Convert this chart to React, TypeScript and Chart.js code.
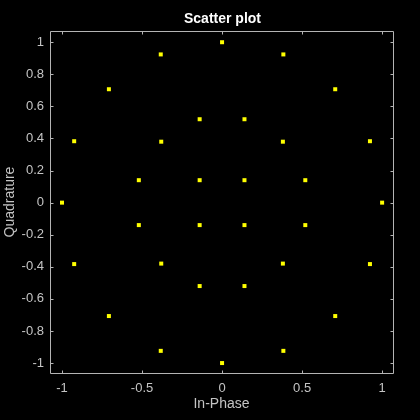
import React, { useEffect, useRef } from "react";
import { Chart, registerables } from "chart.js";

Chart.register(...registerables);

const titleText = "Scatter plot";
const xLabel = "In-Phase";
const yLabel = "Quadrature";

const inPhase = [
  1, 0.924, 0.707, 0.383, 0, -0.383, -0.707, -0.924, -1, -0.924, -0.707, -0.383, 0, 0.383, 0.707, 0.924,
  0.52, 0.38, 0.14, -0.14, -0.38, -0.52, -0.52, -0.38, -0.14, 0.14, 0.38, 0.52,
  0.14, -0.14, -0.14, 0.14,
];
const quadrature = [
  0, 0.383, 0.707, 0.924, 1, 0.924, 0.707, 0.383, 0, -0.383, -0.707, -0.924, -1, -0.924, -0.707, -0.383,
  0.14, 0.38, 0.52, 0.52, 0.38, 0.14, -0.14, -0.38, -0.52, -0.52, -0.38, -0.14,
  0.14, 0.14, -0.14, -0.14,
];
const xTicks = [-1, -0.5, 0, 0.5, 1];
const yTicks = [-1, -0.8, -0.6, -0.4, -0.2, 0, 0.2, 0.4, 0.6, 0.8, 1];

const AXIS_COLOR = "#b4b4b4";
const TEXT_COLOR = "#c4c4c4";
const FONT = "'Liberation Sans', Arial, sans-serif";

const framePlugin = {
  id: "frame",
  beforeDraw(chart: any) {
    const { ctx } = chart;
    ctx.save();
    ctx.fillStyle = "#000000";
    ctx.fillRect(0, 0, chart.width, chart.height);
    ctx.restore();
  },
  afterDraw(chart: any) {
    const { ctx, chartArea: a, scales } = chart;
    ctx.save();
    ctx.strokeStyle = AXIS_COLOR;
    ctx.lineWidth = 1;
    const L = Math.round(a.left) + 0.5;
    const R = Math.round(a.right) + 0.5;
    const T = Math.round(a.top) + 0.5;
    const B = Math.round(a.bottom) + 0.5;
    ctx.beginPath();
    ctx.rect(L, T, R - L, B - T);
    ctx.stroke();
    const tl = 3;
    ctx.beginPath();
    xTicks.forEach((v) => {
      const px = Math.round(scales.x.getPixelForValue(v)) + 0.5;
      ctx.moveTo(px, B);
      ctx.lineTo(px, B - tl);
      ctx.moveTo(px, T);
      ctx.lineTo(px, T + tl);
    });
    yTicks.forEach((v) => {
      const py = Math.round(scales.y.getPixelForValue(v)) + 0.5;
      ctx.moveTo(L, py);
      ctx.lineTo(L + tl, py);
      ctx.moveTo(R, py);
      ctx.lineTo(R - tl, py);
    });
    ctx.stroke();

    const cx = (a.left + a.right) / 2;
    const cy = (a.top + a.bottom) / 2;
    ctx.fillStyle = "#ffffff";
    ctx.font = `bold 14px ${FONT}`;
    ctx.textAlign = "center";
    ctx.textBaseline = "middle";
    ctx.fillText(titleText, cx + 1, 19);

    ctx.fillStyle = TEXT_COLOR;
    ctx.font = `14px ${FONT}`;
    ctx.fillText(xLabel, cx, 404);
    ctx.save();
    ctx.translate(10, cy);
    ctx.rotate(-Math.PI / 2);
    ctx.fillText(yLabel, 0, 0);
    ctx.restore();
    ctx.restore();
  },
};

export default function App() {
  const ref = useRef<HTMLCanvasElement>(null);
  useEffect(() => {
    document.body.style.margin = "0";
    const canvas = ref.current!;
    const data = inPhase.map((x, i) => ({ x, y: quadrature[i] }));
    const chart = new Chart(canvas, {
      type: "scatter",
      data: {
        datasets: [
          {
            data,
            pointStyle: "rect",
            pointRadius: 2.83,
            pointBorderWidth: 0,
            backgroundColor: "#ffff00",
            borderColor: "#ffff00",
          },
        ],
      },
      options: {
        animation: false,
        responsive: false,
        devicePixelRatio: 1,
        layout: { padding: { top: 31, right: 27, left: 0, bottom: 0 } },
        plugins: {
          legend: { display: false },
          title: { display: false },
          tooltip: { enabled: false },
        },
        scales: {
          x: {
            type: "linear",
            min: -1.075,
            max: 1.068,
            afterBuildTicks: (s: any) => {
              s.ticks = xTicks.map((v) => ({ value: v }));
            },
            afterFit: (s: any) => {
              s.height = 47;
            },
            grid: { display: false, drawTicks: false },
            border: { display: false },
            ticks: {
              color: TEXT_COLOR,
              font: { family: FONT, size: 13 },
              padding: 8,
              maxRotation: 0,
              autoSkip: false,
              callback: (v: any) => String(v),
            },
          },
          y: {
            type: "linear",
            min: -1.062,
            max: 1.07,
            afterBuildTicks: (s: any) => {
              s.ticks = yTicks.map((v) => ({ value: v }));
            },
            afterFit: (s: any) => {
              s.width = 50;
            },
            grid: { display: false, drawTicks: false },
            border: { display: false },
            ticks: {
              color: TEXT_COLOR,
              font: { family: FONT, size: 13 },
              padding: 6,
              autoSkip: false,
              callback: (v: any) => String(Math.round(v * 10) / 10),
            },
          },
        },
      },
      plugins: [framePlugin],
    });
    return () => chart.destroy();
  }, []);
  return (
    <div style={{ position: "fixed", left: 0, top: 0, width: 420, height: 420, background: "#000" }}>
      <canvas ref={ref} width={420} height={420} style={{ width: 420, height: 420, display: "block" }} />
    </div>
  );
}
